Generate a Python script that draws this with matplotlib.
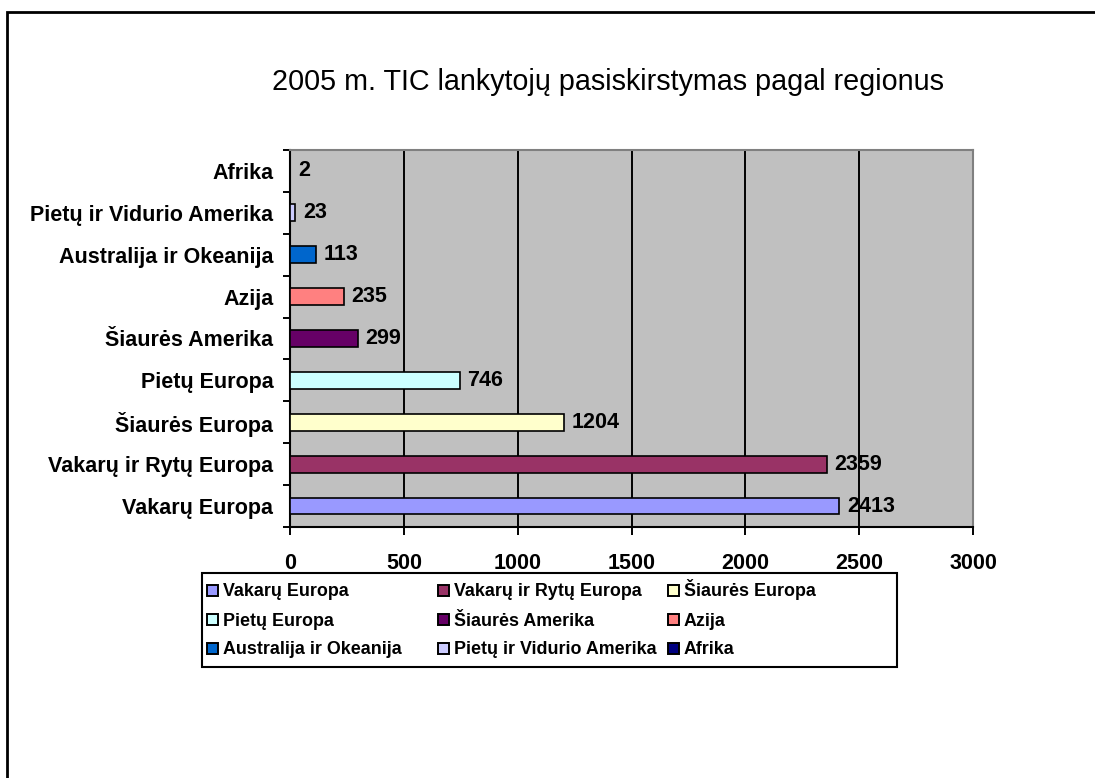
import matplotlib.pyplot as plt
from matplotlib.patches import Rectangle

# Regions, listed from the bottom bar upwards
regions = ["Vakarų Europa", "Vakarų ir Rytų Europa", "Šiaurės Europa",
           "Pietų Europa", "Šiaurės Amerika", "Azija",
           "Australija ir Okeanija", "Pietų ir Vidurio Amerika", "Afrika"]
visitors = [2413, 2359, 1204, 746, 299, 235, 113, 23, 2]
bar_colors = ["#9999FF", "#993366", "#FFFFCC", "#CCFFFF", "#660066",
              "#FF8080", "#0066CC", "#CCCCFF", "#000080"]
x_ticks = [0, 500, 1000, 1500, 2000, 2500, 3000]

title = "2005 m. TIC lankytojų pasiskirstymas pagal regionus"

plt.rcParams['font.family'] = ['Liberation Sans', 'DejaVu Sans']

W, H = 1095, 778
fig = plt.figure(figsize=(W / 100, H / 100), dpi=100)
fig.patch.set_facecolor("white")

# Plot area placed in pixel terms
left, right, top, bottom = 290, 973, 150, 527
ax = fig.add_axes([left / W, 1 - bottom / H, (right - left) / W, (bottom - top) / H])
ax.set_facecolor("#C0C0C0")

y_pos = list(range(len(regions)))
ax.barh(y_pos, visitors, height=0.4, color=bar_colors,
        edgecolor="black", linewidth=1.2, zorder=3)

# Value labels right of each bar
for y, v in zip(y_pos, visitors):
    ax.annotate(str(v), xy=(v, y), xytext=(5.5, 0), textcoords="offset points",
                ha="left", va="center", fontsize=15.5, fontweight="bold", zorder=4)

ax.set_xlim(0, 3000)
ax.set_ylim(-0.5, len(regions) - 0.5)

# Vertical gridlines
ax.set_xticks(x_ticks)
ax.set_xticklabels([str(t) for t in x_ticks], fontsize=15.5, fontweight="bold")
ax.xaxis.grid(True, color="black", linewidth=1.4, zorder=1)
ax.set_axisbelow(True)
ax.tick_params(axis="x", direction="out", length=6, width=1.4, pad=13)

# Category labels, with tick marks between categories
ax.set_yticks(y_pos)
ax.set_yticklabels(regions, fontsize=15.5, fontweight="bold")
ax.tick_params(axis="y", which="major", length=0, pad=12)
ax.set_yticks([i - 0.5 for i in range(len(regions) + 1)], minor=True)
ax.tick_params(axis="y", which="minor", direction="out", length=5, width=1.4)

for side in ["left", "bottom"]:
    ax.spines[side].set_color("black")
    ax.spines[side].set_linewidth(1.5)
for side in ["top", "right"]:
    ax.spines[side].set_color("#808080")
    ax.spines[side].set_linewidth(1.5)

fig.text(608 / W, 1 - 82 / H, title, ha="center", va="center", fontsize=20.7)

# Legend drawn by hand: 3x3 grid filled row by row, square swatch + label on a shared baseline
col_x = [207, 438, 668]
row_y = [590, 619, 648]
sw, sh = 11, 11
for i, (name, color) in enumerate(zip(regions, bar_colors)):
    r, c = divmod(i, 3)
    x, y = col_x[c], row_y[r]
    fig.add_artist(Rectangle((x / W, 1 - (y + sh / 2) / H), sw / W, sh / H,
                             transform=fig.transFigure, facecolor=color,
                             edgecolor="black", linewidth=1.4))
    fig.text((x + sw + 5) / W, 1 - (y + 6.5) / H, name, ha="left", va="baseline",
             fontsize=12.9, fontweight="bold")

lx0, lx1, ly0, ly1 = 202, 897, 573, 667
fig.add_artist(Rectangle((lx0 / W, 1 - ly1 / H), (lx1 - lx0) / W, (ly1 - ly0) / H,
                         transform=fig.transFigure, fill=False,
                         edgecolor="black", linewidth=1.5))

# Outer chart border
fig.add_artist(Rectangle((7 / W, -0.1), 1.2, 1 - 12 / H + 0.1, transform=fig.transFigure,
                         fill=False, edgecolor="black", linewidth=2))

fig.savefig("out.png", dpi=100)
